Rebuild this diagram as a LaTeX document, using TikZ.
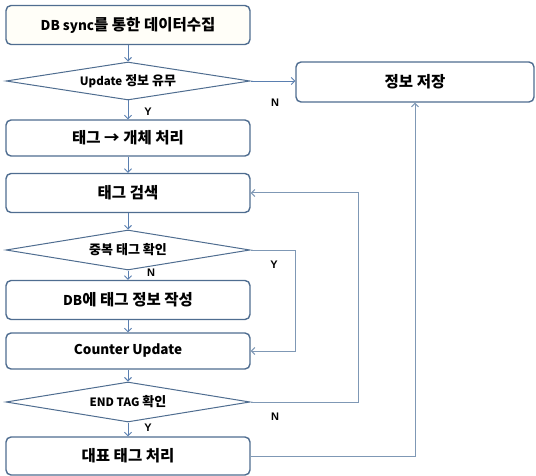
\documentclass[tikz,border=0pt]{standalone}
\usepackage{fontspec}
\newfontfamily\kr{Noto Sans CJK KR}
\newfontfamily\lab{Liberation Sans}
\usetikzlibrary{arrows.meta,shapes.geometric}
\definecolor{boxc}{HTML}{4F6D90}
\definecolor{arrc}{HTML}{5A7FB0}
\definecolor{loopc}{HTML}{7F98B5}
\newcommand\blat[1]{{\fontsize{13.5}{15}\selectfont #1}}
\newcommand\dlat[1]{{\fontsize{11.5}{13}\selectfont #1}}
\tikzset{
  box/.style={draw=boxc, line width=1.4pt, rounded corners=5pt, fill=white,
    minimum width=244pt, inner sep=0pt, font=\kr\bfseries\fontsize{15.5}{17}\selectfont},
  dia/.style={draw=boxc, line width=1pt, shape=diamond, aspect=6,
    minimum width=244pt, minimum height=40pt, inner sep=0pt, fill=white,
    font=\kr\bfseries\fontsize{13}{15}\selectfont},
  arr/.style={draw=arrc, line width=0.9pt, -{Straight Barb[length=3.5pt,width=7pt]}},
  loopln/.style={draw=loopc, line width=1pt, -{Straight Barb[length=3.5pt,width=7pt]}},
  yn/.style={font=\lab\bfseries\fontsize{11}{12}\selectfont, inner sep=0pt}
}
\begin{document}
\begin{tikzpicture}[x=1pt,y=-1pt]
\useasboundingbox (0,0) rectangle (536,476);
\node[box, minimum height=39pt, fill={rgb,255:red,255;green,254;blue,248}] (b1) at (128,25) {\blat{DB sync}를 통한 데이터수집};
\node[dia, minimum height=38pt] (d1) at (128,81) {\dlat{Update} 정보 유무};
\node[box, minimum height=36pt] (b2) at (128,138) {태그 → 개체 처리};
\node[box, minimum height=39pt] (b3) at (128,193) {태그 검색};
\node[dia] (d2) at (128,250) {중복 태그 확인};
\node[box, minimum height=39pt] (b4) at (128,300) {\blat{DB}에 태그 정보 작성};
\node[box, minimum height=36pt] (b5) at (128,351) {\blat{Counter Update}};
\node[dia] (d3) at (128,402) {\dlat{END TAG} 확인};
\node[box, minimum height=38pt] (b6) at (128,456) {대표 태그 처리};
\node[box, minimum width=238pt, minimum height=40pt] (r) at (415,82) {정보 저장};

\draw[arr] (b1) -- (d1);
\draw[arr] (d1) -- (b2);
\draw[arr] (b2) -- (b3);
\draw[arr] (b3) -- (d2);
\draw[arr] (d2) -- (b4);
\draw[arr] (b4) -- (b5);
\draw[arr] (b5) -- (d3);
\draw[arr] (d3) -- (b6);
\draw[arr] (d1.east) -- (d1.east -| r.west);
\draw[loopln] (d2.east) -- ++(45,0) |- (b5.east);
\draw[loopln] (d3.east) -- ++(108,0) |- (b3.east);
\draw[loopln] (b6.east) -| (r.south);

\node[yn] (y1) at (148,112) {Y};
\node[yn] (n1) at (275,103) {N};
\node[yn] (n2) at (151,273) {N};
\node[yn] (y2) at (274,265) {Y};
\node[yn] (n3) at (275,417) {N};
\node[yn] (y3) at (148,428) {Y};
\end{tikzpicture}
\end{document}
